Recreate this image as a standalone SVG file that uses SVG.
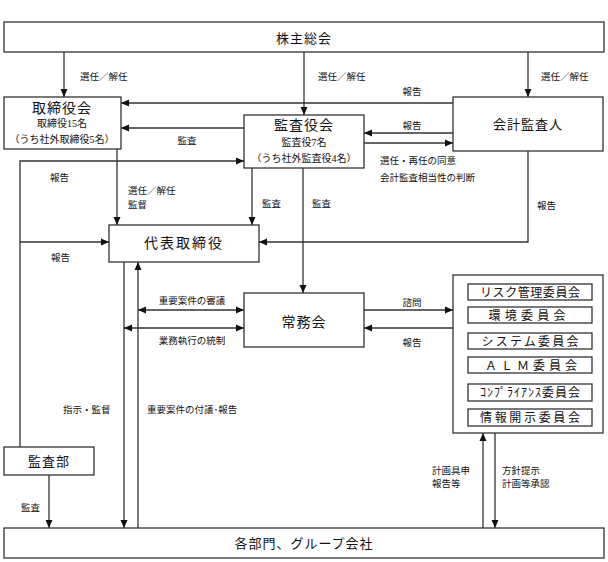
<svg xmlns="http://www.w3.org/2000/svg" width="608" height="562" viewBox="0 0 608 562">
<style>
.box{fill:#fff;stroke:#333;stroke-width:1.3}
.ln{fill:none;stroke:#333;stroke-width:1.3}
text{font-family:"Liberation Serif","Noto Sans CJK JP",serif;fill:#111}
.t{font-size:13px;text-anchor:middle}
.tb{font-size:14px;text-anchor:middle}
.s{font-size:10px;text-anchor:middle}
.l{font-size:9.5px}
.lc{font-size:9.5px;text-anchor:middle}
.c{font-size:12px;text-anchor:middle}
</style>
<defs>
<marker id="a" markerUnits="userSpaceOnUse" markerWidth="8" markerHeight="8" viewBox="0 0 8 8" refX="8" refY="4" orient="auto-start-reverse">
<path d="M0,0.5 L8,4 L0,7.5 Z" fill="#111"/>
</marker>
</defs>
<rect width="608" height="562" fill="#fff"/>

<g id="connectors">
<path class="ln" d="M64 52 V97" marker-end="url(#a)"/>
<path class="ln" d="M304 52 V115" marker-end="url(#a)"/>
<path class="ln" d="M528 52 V97" marker-end="url(#a)"/>
<path class="ln" d="M453 103 H121" marker-end="url(#a)"/>
<path class="ln" d="M244 128 H121" marker-end="url(#a)"/>
<path class="ln" d="M453 133 H364" marker-end="url(#a)"/>
<path class="ln" d="M364 143 H453" marker-end="url(#a)"/>
<path class="ln" d="M20 447 V161 H244" marker-end="url(#a)"/>
<path class="ln" d="M20 242 H109" marker-end="url(#a)"/>
<path class="ln" d="M117 149 V225" marker-end="url(#a)"/>
<path class="ln" d="M252 168 V225" marker-end="url(#a)"/>
<path class="ln" d="M303 168 V293" marker-end="url(#a)"/>
<path class="ln" d="M528 151 V242 H259" marker-end="url(#a)"/>
<path class="ln" d="M124 262 V528" marker-end="url(#a)"/>
<path class="ln" d="M138 528 V262" marker-end="url(#a)"/>
<path class="ln" d="M138 310 H244" marker-start="url(#a)" marker-end="url(#a)"/>
<path class="ln" d="M124 328 H244" marker-start="url(#a)" marker-end="url(#a)"/>
<path class="ln" d="M364 310 H453" marker-end="url(#a)"/>
<path class="ln" d="M453 328 H364" marker-end="url(#a)"/>
<path class="ln" d="M49 475 V528" marker-end="url(#a)"/>
<path class="ln" d="M483 528 V433" marker-end="url(#a)"/>
<path class="ln" d="M495 433 V528" marker-end="url(#a)"/>
</g>

<g id="labels">
<text class="l" x="80" y="80">選任／解任</text>
<text class="l" x="318" y="80">選任／解任</text>
<text class="l" x="541" y="80">選任／解任</text>
<text class="lc" x="412" y="95">報告</text>
<text class="lc" x="412" y="129">報告</text>
<text class="lc" x="187" y="144">監査</text>
<text class="l" x="380" y="164">選任・再任の同意</text>
<text class="l" x="380" y="181">会計監査相当性の判断</text>
<text class="l" x="50" y="181">報告</text>
<text class="l" x="128" y="194">選任／解任</text>
<text class="l" x="128" y="208">監督</text>
<text class="l" x="262" y="207">監査</text>
<text class="l" x="312" y="207">監査</text>
<text class="l" x="537" y="209">報告</text>
<text class="l" x="51" y="261">報告</text>
<text class="lc" x="192" y="304">重要案件の審議</text>
<text class="lc" x="192" y="344">業務執行の統制</text>
<text class="lc" x="412" y="306">諮問</text>
<text class="lc" x="412" y="346">報告</text>
<text class="l" x="63" y="413">指示・監督</text>
<text class="l" x="147" y="413">重要案件の付議･報告</text>
<text class="l" x="21" y="511">監査</text>
<text class="l" x="432" y="474">計画具申</text>
<text class="l" x="432" y="487">報告等</text>
<text class="l" x="502" y="474">方針提示</text>
<text class="l" x="502" y="487">計画等承認</text>
</g>

<g id="shareholders">
<rect class="box" x="4" y="22" width="600" height="30"/>
<text class="t" x="304" y="42.5" letter-spacing="1">株主総会</text>
</g>

<g id="board">
<rect class="box" x="4" y="97" width="117" height="52"/>
<text class="tb" x="62" y="113" letter-spacing="1">取締役会</text>
<text class="s" x="62" y="127">取締役15名</text>
<text class="s" x="62" y="143">（うち社外取締役5名）</text>
</g>

<g id="auditboard">
<rect class="box" x="244" y="115" width="120" height="53"/>
<text class="tb" x="304" y="130" letter-spacing="1">監査役会</text>
<text class="s" x="304" y="146">監査役7名</text>
<text class="s" x="304" y="162">（うち社外監査役4名）</text>
</g>

<g id="accountant">
<rect class="box" x="453" y="97" width="150" height="54"/>
<text class="t" x="528" y="129" letter-spacing="1">会計監査人</text>
</g>

<g id="representative">
<rect class="box" x="109" y="225" width="150" height="37"/>
<text class="tb" x="184" y="248" letter-spacing="2">代表取締役</text>
</g>

<g id="executive">
<rect class="box" x="244" y="293" width="120" height="54"/>
<text class="tb" x="304" y="327" letter-spacing="1">常務会</text>
</g>

<g id="committees">
<rect class="box" x="453" y="275" width="150" height="158"/>
<rect class="box" x="468" y="284" width="124" height="16"/>
<text class="c" x="530" y="296.5" textLength="100" lengthAdjust="spacing">リスク管理委員会</text>
<rect class="box" x="468" y="307" width="124" height="16"/>
<text class="c" x="527" y="319.5" textLength="77" lengthAdjust="spacing">環境委員会</text>
<rect class="box" x="468" y="333" width="124" height="16"/>
<text class="c" x="530" y="345.5" textLength="97" lengthAdjust="spacing">システム委員会</text>
<rect class="box" x="468" y="357" width="124" height="16"/>
<text class="c" x="531" y="369.5" textLength="92" lengthAdjust="spacing">ＡＬＭ委員会</text>
<rect class="box" x="468" y="384" width="124" height="17"/>
<text class="c" x="530" y="397" textLength="100" lengthAdjust="spacing">ｺﾝﾌﾟﾗｲｱﾝｽ委員会</text>
<rect class="box" x="468" y="409" width="124" height="17"/>
<text class="c" x="530" y="422" textLength="100" lengthAdjust="spacing">情報開示委員会</text>
</g>

<g id="auditdept">
<rect class="box" x="4" y="447" width="90" height="28"/>
<text class="t" x="49" y="465.5" letter-spacing="1">監査部</text>
</g>

<g id="departments">
<rect class="box" x="4" y="528" width="600" height="30"/>
<text class="t" x="304" y="547.5" letter-spacing="1">各部門、グループ会社</text>
</g>
</svg>
